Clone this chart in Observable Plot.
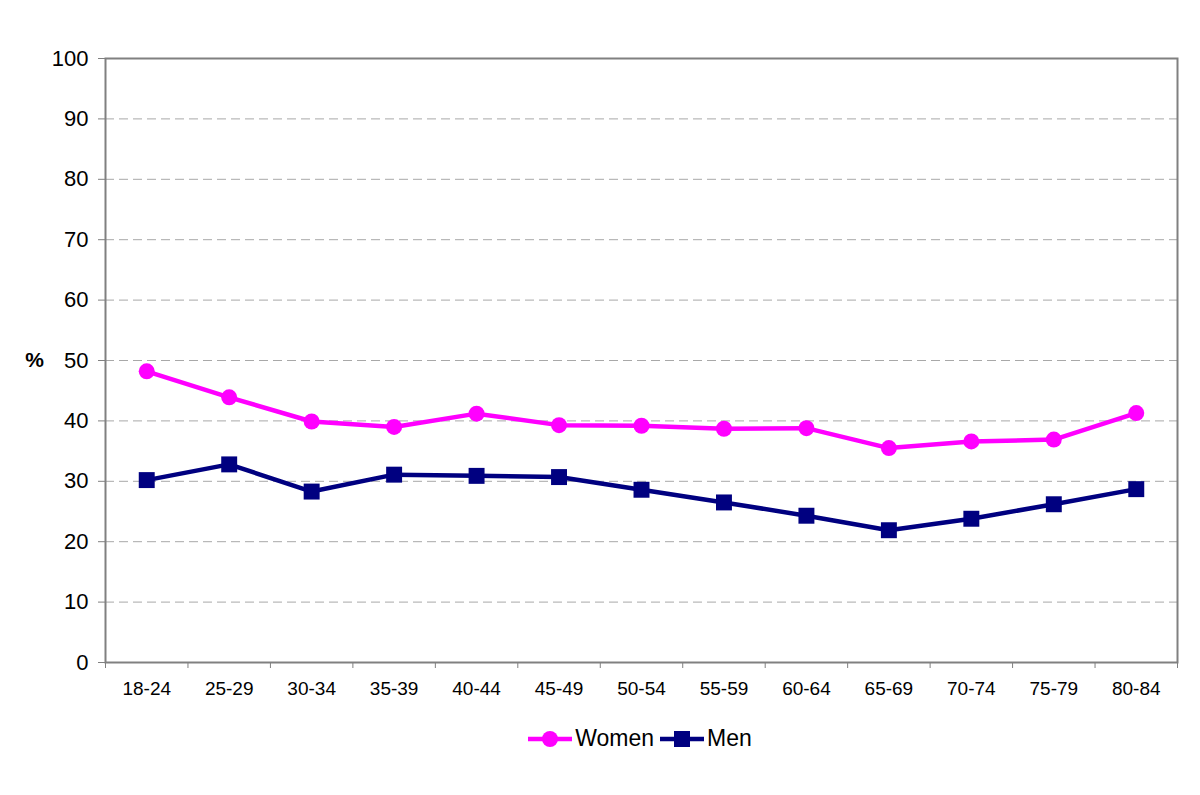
<!DOCTYPE html>
<html>
<head>
<meta charset="utf-8">
<script src="https://cdn.jsdelivr.net/npm/d3@7"></script>
<script src="https://cdn.jsdelivr.net/npm/@observablehq/plot@0.6"></script>
<style>
  html, body { margin: 0; padding: 0; background: #fff; }
  body { width: 1200px; height: 795px; font-family: Arial, "Liberation Sans", sans-serif; }
  #legend { display: flex; justify-content: center; align-items: center; margin-top: 15px; margin-left: 80px; font-size: 23px; color: #000; }
  .item { display: flex; align-items: center; margin: 0 3px; }
  .item svg { margin-right: 3px; }
</style>
</head>
<body>
<div id="chart"></div>
<div id="legend"></div>
<script>
const ageGroups = ["18-24","25-29","30-34","35-39","40-44","45-49","50-54","55-59","60-64","65-69","70-74","75-79","80-84"];
const women = [48.2, 43.9, 39.9, 39.0, 41.2, 39.3, 39.2, 38.7, 38.8, 35.5, 36.6, 36.9, 41.3];
const men   = [30.2, 32.8, 28.3, 31.1, 30.9, 30.7, 28.6, 26.5, 24.3, 21.9, 23.8, 26.2, 28.7];
const yTicks = [0,10,20,30,40,50,60,70,80,90,100];
const seriesNames = ["Women", "Men"];
const seriesColors = ["#FF00FF", "#000080"];
const seriesSymbols = ["circle", "square"];

const n = ageGroups.length;
const rows = [];
ageGroups.forEach((g, i) => {
  rows.push({series: "Women", pos: i + 0.5, age: g, value: women[i]});
  rows.push({series: "Men", pos: i + 0.5, age: g, value: men[i]});
});
const centers = ageGroups.map((g, i) => i + 0.5);
const bounds = d3.range(n + 1);
const womenRows = rows.filter(d => d.series === "Women");
const menRows = rows.filter(d => d.series === "Men");

const chart = Plot.plot({
  width: 1200,
  height: 710,
  marginLeft: 105,
  marginRight: 23,
  marginTop: 58,
  marginBottom: 48,
  style: {fontFamily: "Arial, 'Liberation Sans', sans-serif", background: "#fff"},
  x: {type: "linear", domain: [0, n]},
  y: {domain: [0, 100]},
  marks: [
    Plot.gridY(yTicks.filter(t => t > 0 && t < 100), {stroke: "#a8a8a8", strokeOpacity: 1, strokeDasharray: "9,5", strokeWidth: 1}),
    Plot.axisY(yTicks, {tickSize: 7, tickPadding: 10, stroke: "#808080", fontSize: 22, fill: "#000", label: null}),
    Plot.axisX(bounds, {tickSize: 6, stroke: "#808080", tickFormat: () => "", label: null}),
    Plot.axisX(centers, {tickSize: 0, tickPadding: 19, fontSize: 19, fill: "#000", tickFormat: (d) => ageGroups[Math.floor(d)], label: null}),
    Plot.frame({stroke: "#808080", strokeWidth: 2}),
    Plot.line(womenRows, {x: "pos", y: "value", stroke: seriesColors[0], strokeWidth: 4.5}),
    Plot.dot(womenRows, {x: "pos", y: "value", fill: seriesColors[0], r: 8, symbol: seriesSymbols[0]}),
    Plot.line(menRows, {x: "pos", y: "value", stroke: seriesColors[1], strokeWidth: 4.5}),
    Plot.dot(menRows, {x: "pos", y: "value", fill: seriesColors[1], r: 9, symbol: seriesSymbols[1]}),
    Plot.text(["%"], {frameAnchor: "left", dx: -71, dy: 0, fontSize: 21, fontWeight: "bold", fill: "#000", x: () => 0, y: () => 50, textAnchor: "middle"})
  ]
});
document.getElementById("chart").appendChild(chart);

const legend = document.getElementById("legend");
seriesNames.forEach((name, i) => {
  const item = document.createElement("div");
  item.className = "item";
  const sw = d3.create("svg").attr("width", 44).attr("height", 20);
  sw.append("line").attr("x1", 0).attr("x2", 44).attr("y1", 10).attr("y2", 10)
    .attr("stroke", seriesColors[i]).attr("stroke-width", 4.5);
  if (seriesSymbols[i] === "circle") {
    sw.append("circle").attr("cx", 22).attr("cy", 10).attr("r", 8).attr("fill", seriesColors[i]);
  } else {
    sw.append("rect").attr("x", 14).attr("y", 2).attr("width", 16).attr("height", 16).attr("fill", seriesColors[i]);
  }
  item.appendChild(sw.node());
  const label = document.createElement("span");
  label.textContent = name;
  item.appendChild(label);
  legend.appendChild(item);
});
</script>
</body>
</html>
